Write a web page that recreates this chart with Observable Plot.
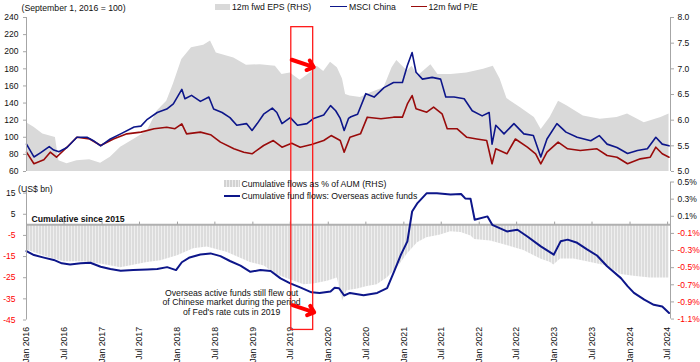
<!DOCTYPE html>
<html><head><meta charset="utf-8">
<script src="https://cdn.jsdelivr.net/npm/d3@7"></script>
<script src="https://cdn.jsdelivr.net/npm/@observablehq/plot@0.6"></script>
<style>
body{margin:0;background:#fff;font-family:"Liberation Sans",Arial,sans-serif;}
#chart{position:relative;width:700px;height:362px;overflow:hidden;background:#fff}
#chart svg{overflow:hidden;display:block}
.lab{position:absolute;font-size:8.7px;line-height:10px;white-space:nowrap;color:#111}
.sw{position:absolute}
</style></head><body>
<svg width="0" height="0" style="position:absolute"><defs>
<pattern id="stripes" patternUnits="userSpaceOnUse" width="3" height="10"><rect width="3" height="10" fill="#dcdcdc"/><rect x="2" width="1" height="10" fill="#efefef"/></pattern>
</defs></svg>
<div id="chart"></div>
<script>
// ---------- data ----------
const msciChina = [["2016-01-01",92],["2016-02-06",77],["2016-03-10",82],["2016-04-20",89],["2016-05-12",85],["2016-06-06",83],["2016-07-15",88],["2016-09-01",100],["2016-10-20",100],["2016-11-20",96],["2016-12-25",90],["2017-02-10",98],["2017-04-01",104],["2017-06-05",112],["2017-07-08",113],["2017-08-08",121],["2017-09-25",129],["2017-11-10",133],["2017-12-12",139],["2018-01-22",156],["2018-02-06",145],["2018-03-10",149],["2018-04-22",142],["2018-06-02",147],["2018-06-25",133],["2018-08-05",129],["2018-09-12",123],["2018-10-15",114],["2018-12-01",116],["2018-12-28",108],["2019-01-22",116],["2019-02-22",127],["2019-04-05",134],["2019-04-27",129],["2019-05-22",116],["2019-07-01",123],["2019-08-05",114],["2019-09-20",116],["2019-10-22",122],["2019-12-10",126],["2020-01-12",137],["2020-02-06",131],["2020-02-28",122],["2020-03-18",108],["2020-04-08",122],["2020-04-20",124],["2020-05-22",127],["2020-07-01",151],["2020-08-10",147],["2020-09-27",158],["2020-11-12",164],["2020-12-25",164],["2021-01-18",184],["2021-02-10",199],["2021-03-01",176],["2021-04-01",168],["2021-05-18",170],["2021-06-28",168],["2021-07-23",147],["2021-09-01",147],["2021-10-20",145],["2021-11-28",131],["2022-01-15",125],["2022-02-18",129],["2022-03-04",92],["2022-03-22",114],["2022-05-01",104],["2022-06-18",116],["2022-08-05",104],["2022-09-20",102],["2022-10-26",77],["2022-11-25",98],["2023-01-12",116],["2023-02-25",106],["2023-04-20",100],["2023-06-25",96],["2023-08-05",102],["2023-09-12",92],["2023-10-30",88],["2023-12-20",81],["2024-02-06",84.5],["2024-03-25",86.5],["2024-05-05",100],["2024-06-05",92],["2024-07-08",90]];

const fwdPE = [["2016-01-01",82.6],["2016-02-06",69],["2016-03-25",73.7],["2016-04-25",82.6],["2016-05-25",76.7],["2016-07-15",88.4],["2016-09-01",100],["2016-11-02",98],["2016-12-25",90.4],["2017-02-25",98],["2017-05-01",104],["2017-07-08",106],["2017-09-10",110],["2017-11-10",111.8],["2017-12-20",110],["2018-01-22",115.7],["2018-02-14",104],["2018-04-22",106],["2018-06-10",103],["2018-07-28",94.3],["2018-10-01",86.5],["2018-11-18",82.6],["2018-12-28",80.7],["2019-02-22",90.4],["2019-04-10",96.2],["2019-05-22",88.4],["2019-07-08",93],["2019-08-18",88.4],["2019-10-12",91.6],["2019-12-10",96.2],["2020-01-15",102],["2020-02-28",96.2],["2020-03-18",82.6],["2020-04-15",100],["2020-06-05",104],["2020-07-08",123.5],["2020-09-12",121.6],["2020-11-12",123.5],["2020-12-25",123.5],["2021-01-18",139],["2021-02-10",148.8],["2021-03-01",133.3],["2021-04-22",129.3],["2021-05-25",135.2],["2021-07-05",127.4],["2021-07-30",110],["2021-09-15",110],["2021-11-02",100],["2021-12-20",98],["2022-02-06",96.2],["2022-03-04",69],["2022-03-22",86.5],["2022-05-15",80.7],["2022-06-25",98],["2022-08-22",88.4],["2022-10-01",80.7],["2022-10-26",69],["2022-11-25",82.6],["2023-01-18",94.3],["2023-03-05",86.5],["2023-05-05",84.5],["2023-07-25",86.5],["2023-09-12",78.7],["2023-10-30",76.7],["2023-12-20",69],["2024-02-20",74.8],["2024-04-08",76.7],["2024-05-05",88.4],["2024-06-05",80.7],["2024-07-08",76.7]];

// 12m fwd EPS (RHS units)
const fwdEPS = [["2016-01-01",5.95],["2016-02-06",5.86],["2016-03-20",5.73],["2016-05-20",5.66],["2016-06-06",5.21],["2016-07-15",5.15],["2016-09-01",5.21],["2016-11-02",5.23],["2016-12-25",5.16],["2017-02-10",5.28],["2017-04-01",5.47],["2017-06-05",5.63],["2017-08-08",5.79],["2017-09-25",6.18],["2017-11-10",6.37],["2017-12-12",6.70],["2018-01-22",7.18],["2018-03-10",7.41],["2018-05-08",7.46],["2018-06-10",7.54],["2018-07-08",7.31],["2018-10-01",7.21],["2018-12-01",7.07],["2019-02-06",7.08],["2019-04-20",7.05],["2019-05-22",6.89],["2019-07-01",6.92],["2019-08-18",6.78],["2019-10-05",6.92],["2019-11-08",7.05],["2019-12-10",6.95],["2020-01-12",7.13],["2020-02-14",7.02],["2020-03-10",6.80],["2020-03-25",6.50],["2020-04-15",6.47],["2020-06-05",6.44],["2020-07-22",6.53],["2020-09-27",6.63],["2020-11-05",7.02],["2020-11-28",7.16],["2021-01-18",6.96],["2021-02-10",7.05],["2021-03-10",6.86],["2021-05-12",7.08],["2021-06-15",6.89],["2021-08-18",6.89],["2021-11-02",6.92],["2022-01-22",6.99],["2022-03-10",7.05],["2022-04-12",6.80],["2022-05-15",6.42],["2022-07-20",6.24],["2022-09-25",6.05],["2022-10-28",5.82],["2022-12-10",6.05],["2023-01-20",6.37],["2023-03-01",6.28],["2023-05-20",6.08],["2023-08-10",6.02],["2023-10-30",6.05],["2023-12-20",6.12],["2024-03-10",5.95],["2024-05-30",6.05],["2024-07-08",6.12]];

// Cumulative fund flows: Overseas active funds (US$ bn)
const fundFlows = [["2016-01-01",-12.4],["2016-02-06",-14.3],["2016-03-25",-15.5],["2016-05-12",-16.6],["2016-06-20",-18.2],["2016-07-30",-18.7],["2016-09-20",-18.2],["2016-11-05",-17.9],["2016-12-25",-19.8],["2017-02-10",-20.9],["2017-04-01",-21.7],["2017-06-01",-21.4],["2017-08-08",-21.1],["2017-09-25",-20.9],["2017-11-12",-20],["2017-12-25",-21.4],["2018-01-22",-17.7],["2018-03-01",-15.4],["2018-04-22",-14],["2018-06-10",-13.5],["2018-07-28",-14.8],["2018-09-12",-17.1],["2018-11-02",-19.3],["2018-12-20",-22.2],["2019-02-06",-21.4],["2019-03-28",-21.8],["2019-05-15",-25.3],["2019-07-01",-27.7],["2019-08-18",-29.6],["2019-10-12",-31.9],["2019-11-20",-32.2],["2020-01-12",-31.5],["2020-02-01",-29.8],["2020-02-22",-30],["2020-03-18",-33.4],["2020-04-15",-32.2],["2020-06-20",-33.3],["2020-08-25",-32.2],["2020-10-12",-29.9],["2020-11-15",-22],["2020-12-18",-14.1],["2021-01-18",-7.8],["2021-02-10",6.3],["2021-03-08",10.3],["2021-04-22",15],["2021-06-10",15],["2021-08-15",14.4],["2021-10-05",14.6],["2021-10-25",12.5],["2021-11-20",12.3],["2021-12-10",2.4],["2022-02-10",4],["2022-03-05",0],["2022-05-15",-3.1],["2022-07-05",-2.3],["2022-08-22",-5.5],["2022-10-26",-10.2],["2022-12-28",-14.1],["2023-01-30",-7.8],["2023-03-05",-7],["2023-04-20",-8.5],["2023-06-05",-11.5],["2023-07-25",-14.5],["2023-09-12",-19.6],["2023-11-18",-25.2],["2023-12-20",-29],["2024-01-20",-32.2],["2024-03-10",-35.4],["2024-04-25",-37.8],["2024-06-05",-38.6],["2024-07-08",-41.7]];

// Cumulative flows as % of AUM (RHS, %)
const flowsPctAUM = [["2016-01-01",-0.29],["2016-04-01",-0.37],["2016-07-01",-0.43],["2016-10-01",-0.43],["2017-01-01",-0.46],["2017-04-01",-0.50],["2017-08-08",-0.44],["2017-10-12",-0.42],["2018-01-01",-0.36],["2018-03-20",-0.28],["2018-05-25",-0.26],["2018-08-28",-0.32],["2018-12-20",-0.44],["2019-02-25",-0.48],["2019-04-25",-0.58],["2019-07-01",-0.64],["2019-09-05",-0.70],["2019-10-22",-0.69],["2019-12-28",-0.66],["2020-02-14",-0.62],["2020-03-10",-0.89],["2020-04-01",-0.77],["2020-05-22",-0.75],["2020-07-08",-0.72],["2020-08-25",-0.70],["2020-10-12",-0.62],["2020-12-01",-0.50],["2021-01-18",-0.34],["2021-03-08",-0.21],["2021-04-22",-0.15],["2021-06-28",-0.12],["2021-08-15",-0.08],["2021-10-05",-0.09],["2021-11-22",-0.13],["2021-12-10",-0.17],["2022-02-25",-0.19],["2022-05-15",-0.24],["2022-08-05",-0.30],["2022-10-26",-0.40],["2022-12-12",-0.44],["2022-12-28",-0.47],["2023-01-30",-0.40],["2023-04-05",-0.40],["2023-06-25",-0.44],["2023-09-12",-0.48],["2023-11-18",-0.58],["2024-01-20",-0.60],["2024-04-08",-0.62],["2024-07-08",-0.62]];

// ticks
const topLeftTicks = [60,80,100,120,140,160,180,200,220,240];
const topRightTicks = [5.0,5.5,6.0,6.5,7.0,7.5,8.0];
const bottomLeftTicks = [15,5,-5,-15,-25,-35,-45];
const bottomRightTicks = [0.5,0.3,0.1,-0.1,-0.3,-0.5,-0.7,-0.9,-1.1];
const xTickDates = ["2016-01-01","2016-07-01","2017-01-01","2017-07-01","2018-01-01","2018-07-01","2019-01-01","2019-07-01","2020-01-01","2020-07-01","2021-01-01","2021-07-01","2022-01-01","2022-07-01","2023-01-01","2023-07-01","2024-01-01","2024-07-01"];
const xDomainDates = ["2016-01-01","2024-07-15"];

// annotations (data space)
const boxDates = ["2019-07-06","2019-10-20"];
const boxTopValue = 228.7;      // top panel
const boxBottomValue = -49.7;   // bottom panel
const arrowTop = [{x1:"2019-07-08", y1:190.6, x2:"2019-10-23", y2:181.9}];
const arrowBottom = [{x1:"2019-07-12", y1:-38.0, x2:"2019-10-25", y2:-41.4}];
const noteText = [{date:"2018-09-20", value:-36.6, text:"Overseas active funds still flew out\nof Chinese market during the period\nof Fed's rate cuts in 2019"}];

// ---------- helpers ----------
const rows = a => a.map(([d, v]) => ({date: new Date(d), value: v}));
const D = s => new Date(s);
const epsToLeft = v => 60 + (v - 5) * 60;
const PCT = 40.5; // % -> US$bn axis units
const xDomain = xDomainDates.map(D);
const xTicks = xTickDates.map(D);
const BLUE = "#0d168a", RED = "#990b0b", AXIS = "#a6a6a6";
const font = {fontFamily: "'Liberation Sans', Arial, sans-serif", fontSize: "8.5px", background: "white", overflow: "hidden"};

const topPlot = Plot.plot({
  width: 700, height: 175, marginLeft: 26, marginRight: 30, marginTop: 17, marginBottom: 4,
  style: font,
  x: {type: "utc", domain: xDomain, axis: null},
  y: {domain: [60, 240], axis: null},
  marks: [
    Plot.areaY(rows(fwdEPS), {x: "date", y1: 60, y2: d => epsToLeft(d.value), fill: "#d9d9d9"}),
    Plot.line(rows(fwdPE), {x: "date", y: "value", stroke: RED, strokeWidth: 1.6}),
    Plot.line(rows(msciChina), {x: "date", y: "value", stroke: BLUE, strokeWidth: 1.6}),
    Plot.ruleX([xDomain[0]], {y1: 60, y2: 240, stroke: AXIS}),
    Plot.ruleX([xDomain[1]], {y1: 60, y2: 240, stroke: AXIS}),
    Plot.axisY(topLeftTicks, {anchor: "left", tickSize: 3, tickPadding: 5, stroke: AXIS, fill: "#111", label: null, tickFormat: d => String(d)}),
    Plot.axisY(topRightTicks.map(epsToLeft), {anchor: "right", tickSize: 3, tickPadding: 4, stroke: AXIS, fill: "#111", label: null, tickFormat: v => ((v - 60) / 60 + 5).toFixed(1)}),
    Plot.rect([{}], {x1: () => D(boxDates[0]), x2: () => D(boxDates[1]), y1: boxTopValue, y2: 20, fill: "none", stroke: "#ff1a1a", strokeWidth: 1.3}),
    Plot.arrow(arrowTop, {x1: d => D(d.x1), y1: "y1", x2: d => D(d.x2), y2: "y2", stroke: "#ff0000", strokeWidth: 4, headLength: 5, headAngle: 80})
  ]
});

const bottomPlot = Plot.plot({
  width: 700, height: 187, marginLeft: 26, marginRight: 30, marginTop: 6, marginBottom: 42.5,
  style: font,
  x: {type: "utc", domain: xDomain, axis: null},
  y: {domain: [-45, 20.5], axis: null},
  marks: [
    Plot.areaY(rows(flowsPctAUM), {x: "date", y1: 0, y2: d => d.value * PCT, fill: "url(#stripes)"}),
    Plot.ruleY([0], {stroke: "#b0b0b0", strokeWidth: 2}),
    Plot.ruleX(xTicks, {x: d => d, y1: 0, y2: 1.3, stroke: "#a0a0a0"}),
    Plot.line(rows(fundFlows), {x: "date", y: "value", stroke: BLUE, strokeWidth: 2}),
    Plot.ruleX([xDomain[0]], {y1: -45, y2: 16, stroke: AXIS}),
    Plot.ruleX([xDomain[1]], {y1: -1.1 * PCT, y2: 0.5 * PCT, stroke: AXIS}),
    Plot.axisY(bottomLeftTicks.filter(d => d > 0), {anchor: "left", tickSize: 3, tickPadding: 8, stroke: AXIS, fill: "#111", label: null, tickFormat: d => String(d)}),
    Plot.axisY(bottomLeftTicks.filter(d => d < 0), {anchor: "left", tickSize: 3, tickPadding: 8, stroke: AXIS, fill: "#ff0000", label: null, tickFormat: d => String(d)}),
    Plot.axisY(bottomRightTicks.filter(d => d > 0).map(p => p * PCT), {anchor: "right", tickSize: 3, tickPadding: 4, stroke: AXIS, fill: "#111", label: null, tickFormat: v => (v / PCT).toFixed(1) + "%"}),
    Plot.axisY(bottomRightTicks.filter(d => d < 0).map(p => p * PCT), {anchor: "right", tickSize: 3, tickPadding: 4, stroke: AXIS, fill: "#ff0000", label: null, tickFormat: v => (v / PCT).toFixed(1) + "%"}),
    Plot.axisX(xTicks, {anchor: "bottom", tickSize: 0, tickPadding: 7, tickRotate: -90, label: null, fill: "#111", fontSize: 8.7, tickFormat: d3.utcFormat("%b %Y")}),
    Plot.rect([{}], {x1: () => D(boxDates[0]), x2: () => D(boxDates[1]), y1: 40, y2: boxBottomValue, fill: "none", stroke: "#ff1a1a", strokeWidth: 1.3}),
    Plot.text(noteText, {x: d => D(d.date), y: "value", text: "text", fontSize: 8.7, lineHeight: 1.12, textAnchor: "middle", fill: "#111"}),
    Plot.arrow(arrowBottom, {x1: d => D(d.x1), y1: "y1", x2: d => D(d.x2), y2: "y2", stroke: "#ff0000", strokeWidth: 4, headLength: 5, headAngle: 80})
  ]
});

const chart = document.getElementById("chart");
function place(el, top) {
  const d = document.createElement("div");
  d.style.position = "absolute"; d.style.left = "0"; d.style.top = top + "px";
  d.appendChild(el); chart.appendChild(d);
}
place(topPlot, 0);
place(bottomPlot, 175);

function label(text, left, top, extra) {
  const s = document.createElement("div");
  s.className = "lab"; s.textContent = text;
  s.style.left = left + "px"; s.style.top = top + "px";
  if (extra) Object.assign(s.style, extra);
  chart.appendChild(s);
}
function swatch(left, top, w, h, bg) {
  const s = document.createElement("div");
  s.className = "sw";
  Object.assign(s.style, {left: left + "px", top: top + "px", width: w + "px", height: h + "px", background: bg});
  chart.appendChild(s);
}
label("(September 1, 2016 = 100)", 21.5, 3);
swatch(215, 3.5, 15, 6, "#d9d9d9");
label("12m fwd EPS (RHS)", 232, 1.5);
swatch(330, 5.5, 17, 1.8, BLUE);
label("MSCI China", 349, 1.5);
swatch(411, 5.5, 16, 1.8, RED);
label("12m fwd P/E", 428.5, 1.5);
label("(US$ bn)", 18, 183.5);
swatch(224, 180, 16, 6.5, "repeating-linear-gradient(90deg, #d2d2d2 0 2px, #ececec 2px 3px)");
label("Cumulative flows as % of AUM (RHS)", 241.5, 178.5);
swatch(224, 194.7, 16, 2, BLUE);
label("Cumulative fund flows: Overseas active funds", 241.5, 190.5);
label("Cumulative since 2015", 31.5, 213.5, {fontWeight: "bold"});
</script>
</body></html>
